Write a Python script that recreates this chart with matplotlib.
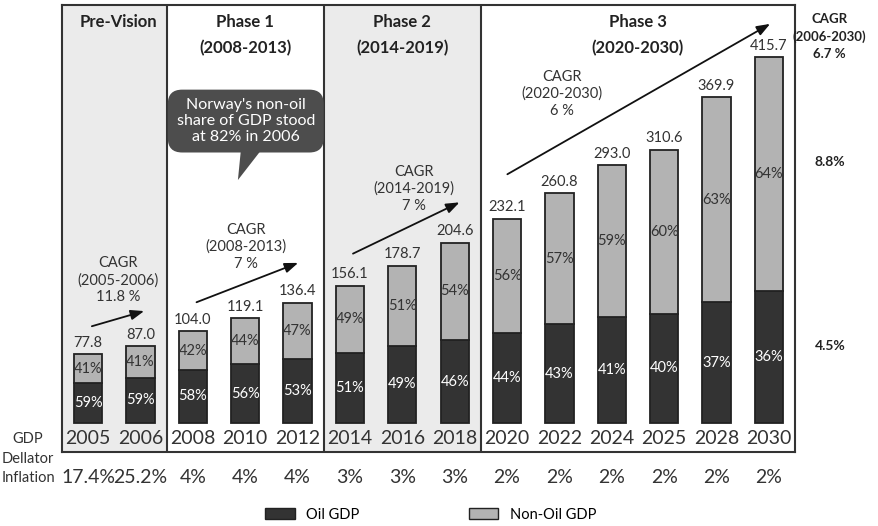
import numpy as np
import matplotlib.pyplot as plt
from matplotlib.patches import Patch, Polygon

plt.rcParams['font.family'] = ['Lato', 'DejaVu Sans']

years = ["2005", "2006", "2008", "2010", "2012", "2014", "2016", "2018",
         "2020", "2022", "2024", "2025", "2028", "2030"]
totals = [77.8, 87.0, 104.0, 119.1, 136.4, 156.1, 178.7, 204.6,
          232.1, 260.8, 293.0, 310.6, 369.9, 415.7]
oil_pct = [59, 59, 58, 56, 53, 51, 49, 46, 44, 43, 41, 40, 37, 36]
nonoil_pct = [41, 41, 42, 44, 47, 49, 51, 54, 56, 57, 59, 60, 63, 64]
inflation = ["17.4%", "25.2%", "4%", "4%", "4%", "3%", "3%", "3%",
             "2%", "2%", "2%", "2%", "2%", "2%"]

phases = ["Pre-Vision", "Phase 1\n(2008-2013)", "Phase 2\n(2014-2019)", "Phase 3\n(2020-2030)"]
phase_bounds = [-0.5, 1.5, 4.5, 7.5, 13.5]
phase_shade = [True, False, True, False]

cagr_text = ["CAGR\n(2005-2006)\n11.8 %", "CAGR\n(2008-2013)\n7 %",
             "CAGR\n(2014-2019)\n7 %", "CAGR\n(2020-2030)\n6 %"]

oil_c = "#333333"
non_c = "#b3b3b3"
txt_c = "#333333"

x = np.arange(len(years))
tot = np.array(totals)
oil = tot * np.array(oil_pct) / 100
non = tot * np.array(nonoil_pct) / 100

fig = plt.figure(figsize=(8.79, 5.26), dpi=100)
ax = fig.add_axes([0.0705, 0.1407, 0.834, 0.85])
ax.set_xlim(-0.5, 13.5)
ax.set_ylim(-33, 475)

for i in range(4):
    if phase_shade[i]:
        ax.axvspan(phase_bounds[i], phase_bounds[i+1], color="#ebebeb", zorder=0, lw=0)
for b in phase_bounds[1:-1]:
    ax.axvline(b, color="#333333", lw=1.5, zorder=1)

w = 0.54
ax.bar(x, oil, w, color=oil_c, edgecolor="#222222", lw=1.3, zorder=2)
ax.bar(x, non, w, bottom=oil, color=non_c, edgecolor="#222222", lw=1.3, zorder=2)

for i in range(len(years)):
    ax.text(x[i], oil[i] / 2, f"{oil_pct[i]}%", ha="center", va="center",
            color="white", fontsize=10.5, zorder=3)
    ax.text(x[i], oil[i] + non[i] / 2, f"{nonoil_pct[i]}%", ha="center", va="center",
            color=txt_c, fontsize=10.5, zorder=3)
    ax.text(x[i], tot[i] + 5, f"{totals[i]:.1f}", ha="center", va="bottom",
            color=txt_c, fontsize=10.5)
    ax.text(x[i], -18, years[i], ha="center", va="center", color=txt_c, fontsize=14)
    ax.text(x[i], -62.5, inflation[i], ha="center", va="center", color=txt_c,
            fontsize=14, clip_on=False)

for i, p in enumerate(phases):
    c = (phase_bounds[i] + phase_bounds[i+1]) / 2
    if i == 0:
        c += 0.07
    ax.text(c, 465, p, ha="center", va="top", fontsize=12, fontweight="bold",
            color="#222222", linespacing=1.75)

# CAGR arrows
arrows = [((0.02, 109), (1.12, 128)), ((2.02, 136), (4.06, 183)),
          ((5.01, 191), (7.14, 252)), ((7.96, 281), (13.07, 455))]
tpos = [(0.57, 162), (3.01, 200), (6.23, 266), (9.05, 374)]
for (s, e), (tx, ty), t in zip(arrows, tpos, cagr_text):
    ax.annotate("", xy=e, xytext=s,
                arrowprops=dict(arrowstyle="-|>,head_length=0.8,head_width=0.3",
                                color="#111111", lw=1.3))
    ax.text(tx, ty, t, ha="center", va="center", fontsize=10.5, color=txt_c,
            linespacing=1.25)

# speech bubble
ax.add_patch(Polygon([[2.92, 312], [3.33, 312], [2.86, 276]], closed=True,
                     color="#4d4d4d", zorder=4, lw=0))
ax.text(3.01, 343, "Norway's non-oil\nshare of GDP stood\nat 82% in 2006",
        ha="center", va="center", color="white", fontsize=11.5, zorder=5,
        linespacing=1.15,
        bbox=dict(boxstyle="round,pad=0.55,rounding_size=0.9", fc="#4d4d4d", ec="none"))

ax.set_xticks([])
ax.set_yticks([])
for sp in ax.spines.values():
    sp.set_color("#333333")
    sp.set_linewidth(1.5)

fig.text(0.032, 0.165, "GDP", ha="center", va="center", fontsize=10.5, color=txt_c)
fig.text(0.032, 0.127, "Dellator", ha="center", va="center", fontsize=10.5, color=txt_c)
fig.text(0.032, 0.091, "Inflation", ha="center", va="center", fontsize=10.5, color=txt_c)

fig.text(0.944, 0.930, "CAGR\n(2006-2030)\n6.7 %", ha="center", va="center",
         fontsize=9.5, fontweight="bold", color="#222222", linespacing=1.5)
fig.text(0.944, 0.692, "8.8%", ha="center", va="center", fontsize=10,
         fontweight="bold", color="#222222")
fig.text(0.944, 0.342, "4.5%", ha="center", va="center", fontsize=10,
         fontweight="bold", color="#222222")

handles = [Patch(facecolor=oil_c, edgecolor="#222222"),
           Patch(facecolor=non_c, edgecolor="#222222")]
fig.legend(handles, ["Oil GDP", "Non-Oil GDP"], loc="center",
           bbox_to_anchor=(0.49, 0.021), ncol=2, frameon=False,
           columnspacing=7.5, handlelength=2.0, handleheight=0.8, fontsize=10.5)

fig.savefig("out.png", dpi=100)
